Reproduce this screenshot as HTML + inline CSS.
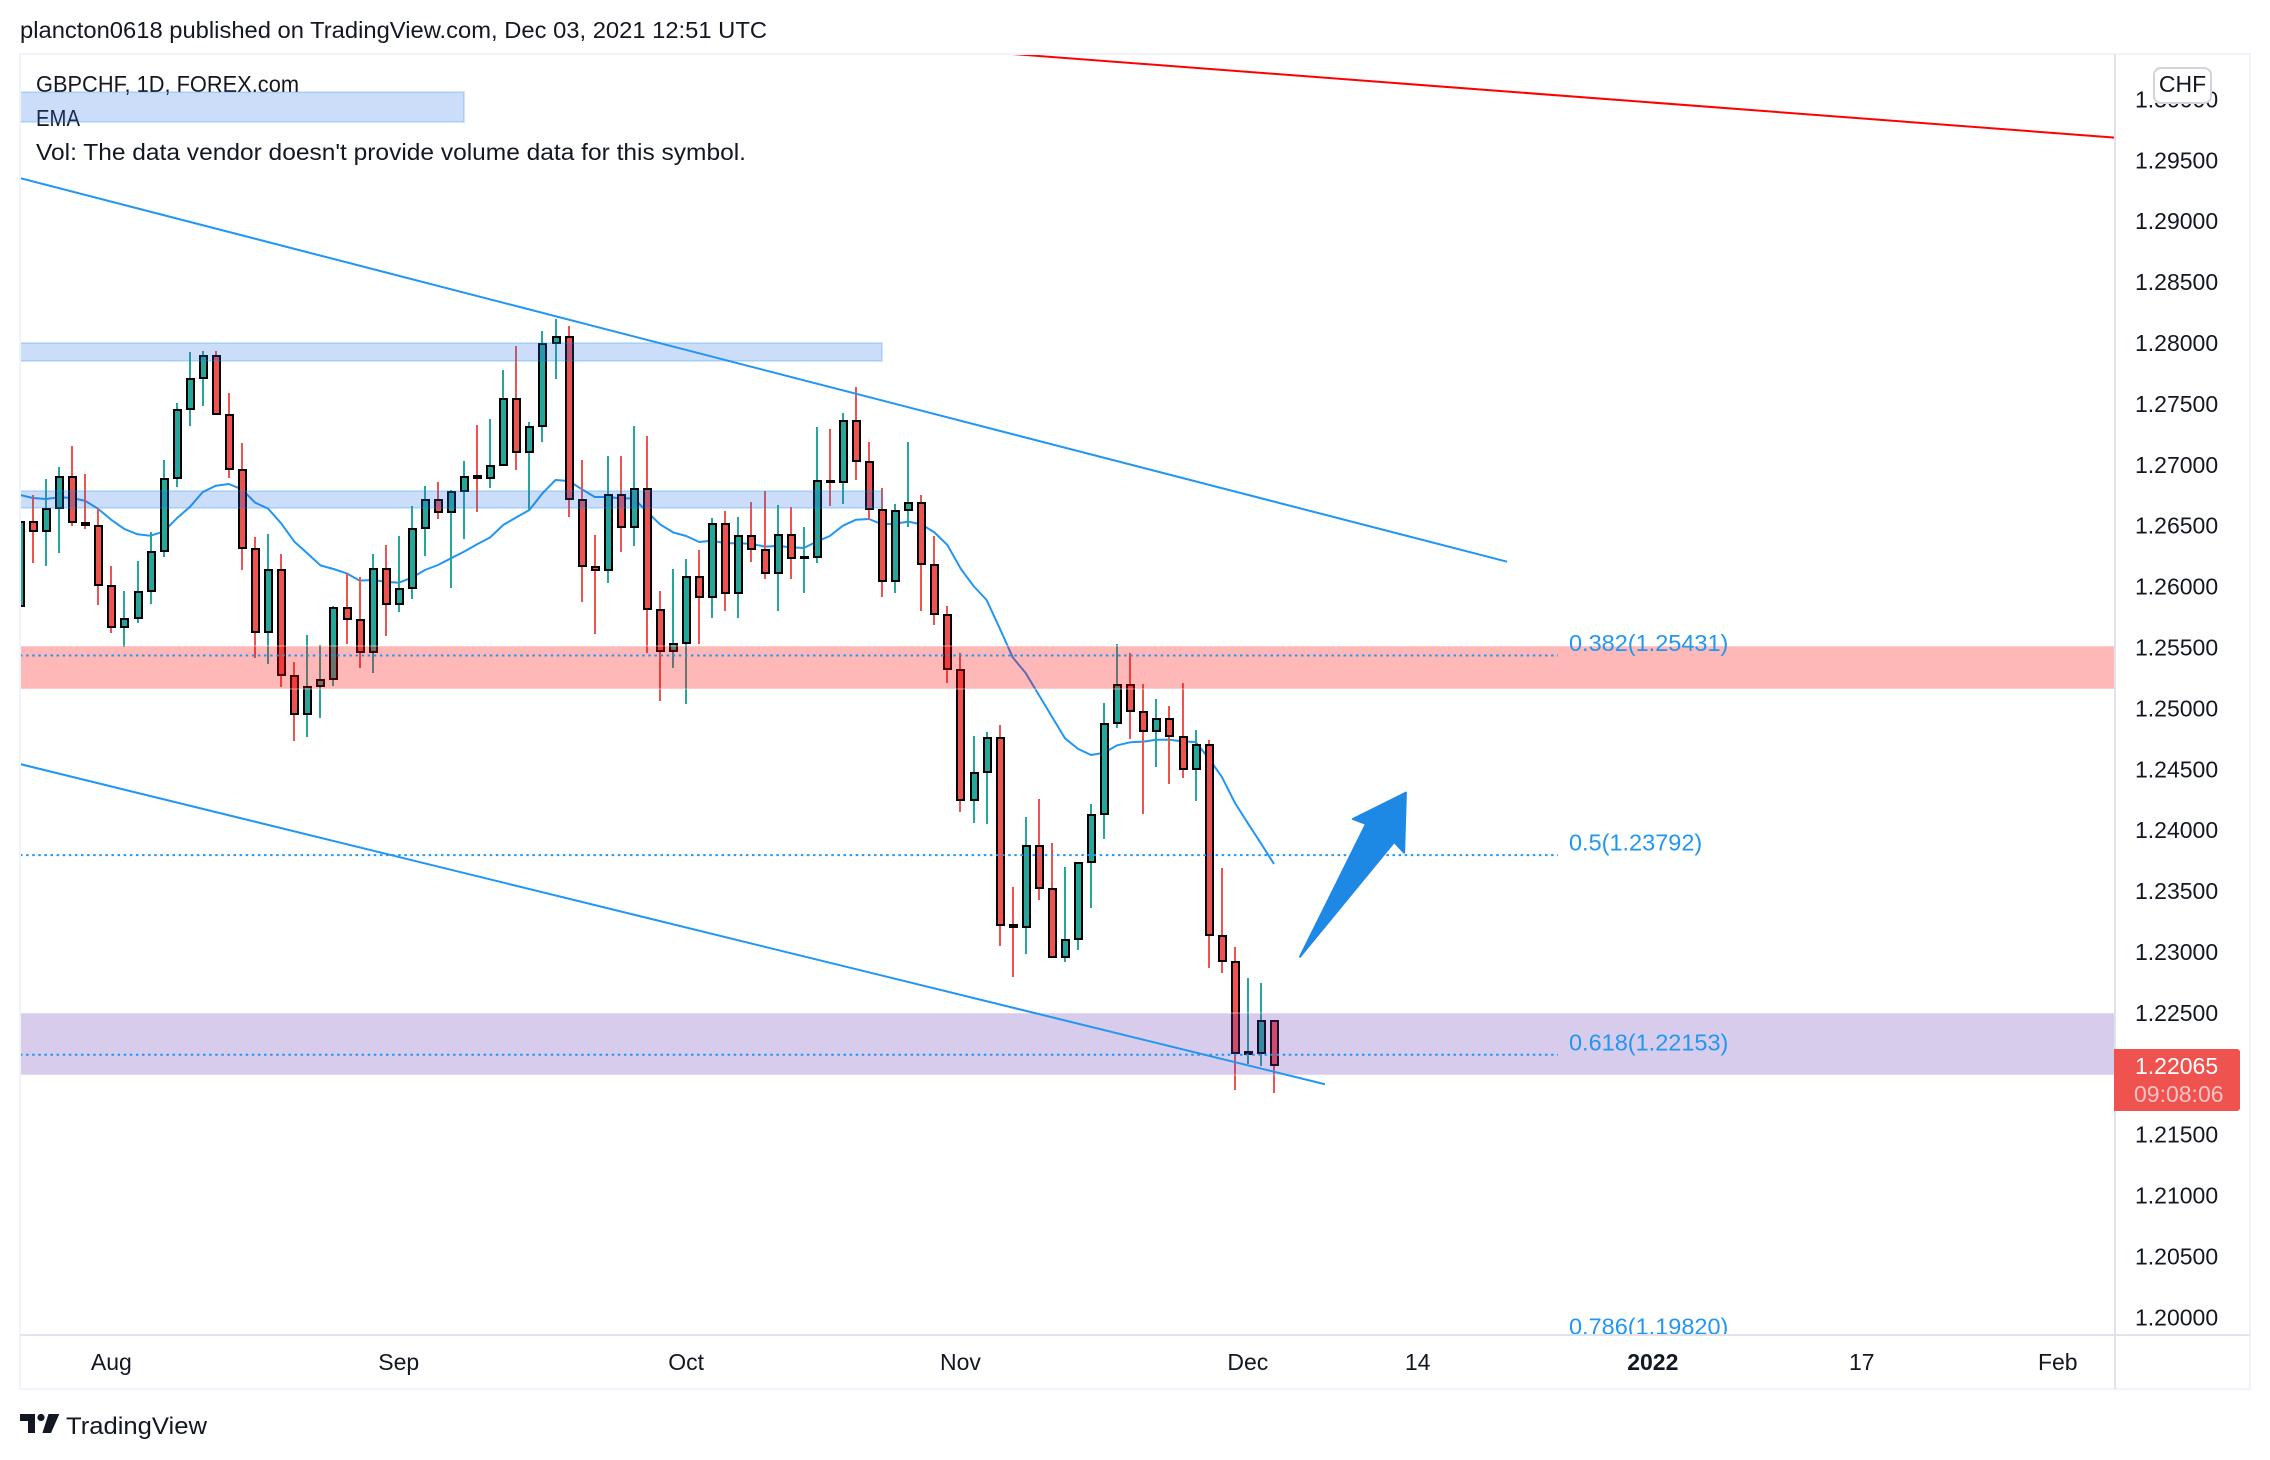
<!DOCTYPE html>
<html lang="en">
<head>
<meta charset="utf-8">
<title>GBPCHF 1D chart</title>
<style>
html,body{margin:0;padding:0;background:#fff;width:2270px;height:1460px;overflow:hidden}
svg{display:block}
text{font-family:"Liberation Sans",Arial,sans-serif;fill:#131722;font-size:23px}
</style>
</head>
<body>
<svg id="chart" xmlns="http://www.w3.org/2000/svg" width="2270" height="1460" viewBox="0 0 2270 1460">
  <rect x="0" y="0" width="2270" height="1460" fill="#ffffff"/>
  <defs>
    <clipPath id="pane-clip"><rect x="20" y="54" width="2095" height="1281"/></clipPath>
  </defs>
  <text x="20" y="38" textLength="747" lengthAdjust="spacingAndGlyphs">plancton0618 published on TradingView.com, Dec 03, 2021 12:51 UTC</text>
  <g id="pane" clip-path="url(#pane-clip)">
    <text x="36" y="92" textLength="263" lengthAdjust="spacingAndGlyphs">GBPCHF, 1D, FOREX.com</text>
    <text x="36" y="126" textLength="44" lengthAdjust="spacingAndGlyphs">EMA</text>
    <text x="36" y="160" textLength="710" lengthAdjust="spacingAndGlyphs">Vol: The data vendor doesn't provide volume data for this symbol.</text>
    <g id="ema-layer"></g>
    <g id="candle-layer"></g>
    <g id="band-layer"></g>
    <g id="fib-layer"></g>
    <g id="trend-layer"></g>
    <g id="arrow-layer"></g>
  </g>
  <rect x="20" y="54" width="2230" height="1335" fill="none" stroke="#f0f3fa" stroke-width="2"/>
  <line x1="2115" y1="54" x2="2115" y2="1389" stroke="#e0e3eb" stroke-width="2"/>
  <line x1="20" y1="1335" x2="2250" y2="1335" stroke="#e0e3eb" stroke-width="2"/>
  <g id="price-axis"></g>
  <g id="time-axis"></g>
  <g id="last-price"></g>
  <g>
    <rect x="2154" y="68" width="57" height="35" rx="7" fill="#ffffff" stroke="#d1d4dc" stroke-width="2"/>
    <text x="2182.5" y="92" text-anchor="middle">CHF</text>
  </g>
  <g>
    <path fill="#131722" d="M20 1414h15v19h-7v-12h-8z"/>
    <circle fill="#131722" cx="41" cy="1417.5" r="3.6"/>
    <path fill="#131722" d="M48.5 1414h10.8l-8.3 19h-8.6z"/>
    <text x="66" y="1434" textLength="141" lengthAdjust="spacingAndGlyphs" style="font-size:24px">TradingView</text>
  </g>
</svg>
<script>
const highs = [1.26680,1.26749,1.26880,1.26979,1.27151,1.26921,1.26639,1.26166,1.25961,1.26207,1.26445,1.27036,1.27504,1.27923,1.27931,1.27931,1.27586,1.27176,1.26404,1.26429,1.26264,1.25378,1.25599,1.25517,1.25838,1.26108,1.26076,1.26264,1.26338,1.26412,1.26659,1.26823,1.26856,1.26790,1.27028,1.27324,1.27373,1.27775,1.27972,1.27348,1.28095,1.28194,1.28136,1.27036,1.26420,1.27069,1.27069,1.27315,1.27233,1.25961,1.26141,1.26223,1.26297,1.26560,1.26617,1.26568,1.26691,1.26782,1.26667,1.26650,1.26486,1.27307,1.27291,1.27422,1.27636,1.27184,1.26806,1.26675,1.27184,1.26749,1.26412,1.25838,1.25452,1.24770,1.24803,1.24861,1.23530,1.24105,1.24253,1.23892,1.23695,1.23728,1.24212,1.25041,1.25526,1.25452,1.25197,1.25074,1.25017,1.25205,1.24819,1.24737,1.23686,1.23038,1.22783,1.22742,1.22433];
const lows = [1.25660,1.26191,1.26166,1.26273,1.26494,1.26470,1.25846,1.25616,1.25504,1.25698,1.25854,1.26240,1.26815,1.27315,1.27480,1.27414,1.26888,1.26133,1.25411,1.25361,1.25172,1.24729,1.24762,1.24918,1.25181,1.25526,1.25328,1.25287,1.25591,1.25788,1.25895,1.26248,1.26552,1.25985,1.26388,1.26609,1.26806,1.26995,1.26954,1.26626,1.27184,1.27701,1.26568,1.25870,1.25608,1.26026,1.26281,1.26330,1.25452,1.25058,1.25328,1.25033,1.25526,1.25739,1.25796,1.25739,1.26199,1.26059,1.25796,1.26059,1.25944,1.26191,1.26659,1.26675,1.26872,1.26544,1.25911,1.25944,1.26486,1.25796,1.25682,1.25205,1.24146,1.24056,1.24048,1.23046,1.22792,1.22980,1.23424,1.22956,1.22915,1.23013,1.23358,1.23925,1.24836,1.24746,1.24130,1.24516,1.24376,1.24425,1.24237,1.22865,1.22824,1.21864,1.22077,1.22061,1.21842];
const opens = [1.25838,1.26530,1.26453,1.26642,1.26897,1.26519,1.26494,1.26002,1.25665,1.25739,1.25961,1.26289,1.26888,1.27455,1.27709,1.27890,1.27406,1.26954,1.26305,1.25624,1.26133,1.25263,1.24951,1.25181,1.25238,1.25821,1.25723,1.25460,1.26141,1.25854,1.25985,1.26478,1.26708,1.26609,1.26782,1.26902,1.26888,1.26995,1.27537,1.27102,1.27315,1.27997,1.28046,1.26708,1.26158,1.26133,1.26749,1.26486,1.26798,1.25805,1.25468,1.25534,1.26076,1.25911,1.26511,1.25944,1.26412,1.26297,1.26108,1.26420,1.26229,1.26240,1.26867,1.26856,1.27356,1.27020,1.26626,1.26043,1.26626,1.26683,1.26174,1.25764,1.25312,1.24245,1.24475,1.24754,1.23216,1.23202,1.23867,1.23514,1.22956,1.23104,1.23736,1.24130,1.24877,1.25189,1.24967,1.24811,1.24910,1.24762,1.24499,1.24696,1.23128,1.22915,1.22159,1.22165,1.22433];
const closes = [1.26530,1.26453,1.26634,1.26897,1.26527,1.26503,1.26010,1.25665,1.25731,1.25952,1.26281,1.26880,1.27447,1.27701,1.27890,1.27414,1.26962,1.26314,1.25624,1.26133,1.25271,1.24951,1.25172,1.25230,1.25821,1.25731,1.25460,1.26141,1.25854,1.25977,1.26470,1.26708,1.26609,1.26773,1.26897,1.26886,1.26987,1.27537,1.27102,1.27307,1.27989,1.28046,1.26716,1.26166,1.26133,1.26749,1.26486,1.26798,1.25813,1.25468,1.25526,1.26076,1.25911,1.26511,1.25944,1.26412,1.26305,1.26108,1.26420,1.26232,1.26240,1.26864,1.26856,1.27356,1.27028,1.26634,1.26043,1.26617,1.26683,1.26182,1.25772,1.25320,1.24245,1.24466,1.24754,1.23218,1.23199,1.23867,1.23522,1.22956,1.23095,1.23728,1.24122,1.24869,1.25189,1.24975,1.24811,1.24910,1.24770,1.24499,1.24696,1.23136,1.22923,1.22165,1.22173,1.22433,1.22065];
const emaValues = [1.26749,1.26724,1.26716,1.26730,1.26724,1.26700,1.26634,1.26544,1.26470,1.26426,1.26415,1.26448,1.26557,1.26650,1.26773,1.26825,1.26839,1.26795,1.26686,1.26637,1.26516,1.26366,1.26270,1.26171,1.26141,1.26106,1.26046,1.26051,1.26037,1.26029,1.26070,1.26133,1.26174,1.26229,1.26284,1.26344,1.26401,1.26503,1.26565,1.26626,1.26763,1.26872,1.26864,1.26798,1.26732,1.26732,1.26721,1.26721,1.26612,1.26508,1.26442,1.26412,1.26363,1.26374,1.26352,1.26352,1.26347,1.26325,1.26330,1.26319,1.26314,1.26366,1.26412,1.26497,1.26546,1.26552,1.26508,1.26513,1.26530,1.26508,1.26442,1.26338,1.26147,1.26002,1.25887,1.25654,1.25416,1.25285,1.25107,1.24929,1.24751,1.24664,1.24614,1.24633,1.24694,1.24718,1.24724,1.24740,1.24740,1.24726,1.24721,1.24587,1.24436,1.24223,1.24053,1.23889,1.23719];
const priceTicks = ["1.20000","1.20500","1.21000","1.21500","1.22500","1.23000","1.23500","1.24000","1.24500","1.25000","1.25500","1.26000","1.26500","1.27000","1.27500","1.28000","1.28500","1.29000","1.29500","1.30000"];
const timeLabels = ["Aug","Sep","Oct","Nov","Dec","14","2022","17","Feb"];
const timeBars = [7,29,51,72,94,107,125,141,156];
const fibRatios = ["0.382","0.5","0.618","0.786"];
const fibPrices = [1.25431,1.23792,1.22153,1.19820];
const bandNames = ["legend-zone","resistance-zone-upper","resistance-zone-lower","fib-supply-zone","fib-demand-zone"];
const bandTops = [1.30057,1.27997,1.26782,1.25509,1.22496];
const bandBottoms = [1.29811,1.27849,1.26642,1.25156,1.21987];
const bandEndBars = [34,66,66,190,190];
const bandKinds = ["blue","blue","blue","red","purple"];
const trendNames = ["upper-channel-line","lower-channel-line","long-term-red-line"];
const trendStartBars = [0,0,76];
const trendStartPrices = [1.29351,1.24540,1.30369];
const trendEndBars = [113.84,99.9,160.38];
const trendEndPrices = [1.26201,1.21911,1.29683];
const arrowBars = [97.99,103.04,102.03,106.1,105.96,105.2];
const arrowPrices = [1.22958,1.24048,1.24089,1.24305,1.23812,1.23900];
const fibEndBar = 117.74;
const countdown = "09:08:06";

const SVGNS = "http://www.w3.org/2000/svg";
function xScale(bar){ return 19.94 + bar * 13.063; }
function yScale(price){ return 1317 - (price - 1.2) * 12180; }
function mk(tag, parent, attrs){
  const el = document.createElementNS(SVGNS, tag);
  for (const k in attrs) el.setAttribute(k, attrs[k]);
  parent.appendChild(el);
  return el;
}
const GREEN = "#26a69a", RED = "#ef5350";
const emaLayer = document.getElementById("ema-layer");
const candleLayer = document.getElementById("candle-layer");
const bandLayer = document.getElementById("band-layer");
const fibLayer = document.getElementById("fib-layer");
const trendLayer = document.getElementById("trend-layer");
const arrowLayer = document.getElementById("arrow-layer");
const priceAxis = document.getElementById("price-axis");
const timeAxis = document.getElementById("time-axis");
const lastPriceGroup = document.getElementById("last-price");

const emaPoints = emaValues.map(function(v, i){ return xScale(i).toFixed(1) + "," + yScale(v).toFixed(1); }).join(" ");
const emaLine = mk("polyline", emaLayer, {points: emaPoints, fill: "none", stroke: "#2196f3", "stroke-width": 2, "stroke-linejoin": "round"});



closes.forEach(function(close, i){
  const open = opens[i];
  const color = close >= open ? GREEN : RED;
  const cx = Math.round(xScale(i));
  const g = mk("g", candleLayer, {});
  
  
  const wickTop = Math.round(yScale(highs[i]));
  const wickBottom = Math.round(yScale(lows[i]));
  const wick = mk("rect", g, {x: cx - 1, y: wickTop, width: 2, height: Math.max(1, wickBottom - wickTop), fill: color, "shape-rendering": "crispEdges"});
  
  
  const top = Math.round(yScale(Math.max(open, close)));
  const bottom = Math.round(yScale(Math.min(open, close)));
  const body = mk("rect", g, {x: cx - 3, y: top, width: 7, height: Math.max(1, bottom - top), fill: color, stroke: "#000000", "stroke-width": 2, "shape-rendering": "crispEdges"});
  
  
});

const bandFill = {blue: "rgba(33,110,230,0.23)", red: "rgba(255,0,0,0.28)", purple: "rgba(103,58,183,0.26)"};
const bandStroke = {blue: "rgba(33,150,243,0.22)", red: "rgba(255,255,255,0.25)", purple: "rgba(255,255,255,0.25)"};
bandNames.forEach(function(name, i){
  const top = yScale(bandTops[i]);
  const kind = bandKinds[i];
  const r = mk("rect", bandLayer, {x: 20, y: top, width: xScale(bandEndBars[i]) - 20, height: yScale(bandBottoms[i]) - top, fill: bandFill[kind], stroke: bandStroke[kind], "stroke-width": 2});
  
  
});

fibRatios.forEach(function(ratio, i){
  const y = yScale(fibPrices[i]);
  const line = mk("line", fibLayer, {x1: 20, y1: y, x2: xScale(fibEndBar), y2: y, stroke: "#2196f3", "stroke-width": 2, "stroke-dasharray": "2.5 3.6"});
  
  
  const label = mk("text", fibLayer, {x: xScale(fibEndBar) + 11, y: y - 4.5});
  
  
  label.style.fill = "#2196f3";
  label.style.fontSize = "23.5px";
  label.textContent = ratio + "(" + fibPrices[i].toFixed(5) + ")";
});

trendNames.forEach(function(name, i){
  const line = mk("line", trendLayer, {x1: xScale(trendStartBars[i]), y1: yScale(trendStartPrices[i]), x2: xScale(trendEndBars[i]), y2: yScale(trendEndPrices[i]), stroke: i === 2 ? "#ff0000" : "#2196f3", "stroke-width": 2});
  
  
});

const arrowPts = arrowBars.map(function(b, i){ return xScale(b).toFixed(1) + "," + yScale(arrowPrices[i]).toFixed(1); }).join(" ");
const arrow = mk("polygon", arrowLayer, {points: arrowPts, fill: "#1e88e5", stroke: "#1e88e5", "stroke-width": 2, "stroke-linejoin": "round"});



priceTicks.forEach(function(t){
  const label = mk("text", priceAxis, {x: 2135, y: yScale(parseFloat(t)) + 8.4});
  
  
  label.textContent = t;
});

timeLabels.forEach(function(t, i){
  const label = mk("text", timeAxis, {x: xScale(timeBars[i]), y: 1370, "text-anchor": "middle"});
  
  
  if (t === "2022") label.style.fontWeight = "bold";
  label.textContent = t;
});

const lastPrice = closes[closes.length - 1];
const lastY = yScale(lastPrice);
const tag = mk("path", lastPriceGroup, {d: "M2114 " + (lastY - 16.5) + "h123a3 3 0 0 1 3 3v56a3 3 0 0 1-3 3h-123z", fill: RED});


const lastText = mk("text", lastPriceGroup, {x: 2135, y: lastY + 8.4});


lastText.style.fill = "#ffffff";
lastText.textContent = lastPrice.toFixed(5);
const cdText = mk("text", lastPriceGroup, {x: 2134, y: lastY + 36.5});


cdText.style.fill = "rgba(255,255,255,0.65)";
cdText.textContent = countdown;
</script>
</body>
</html>
